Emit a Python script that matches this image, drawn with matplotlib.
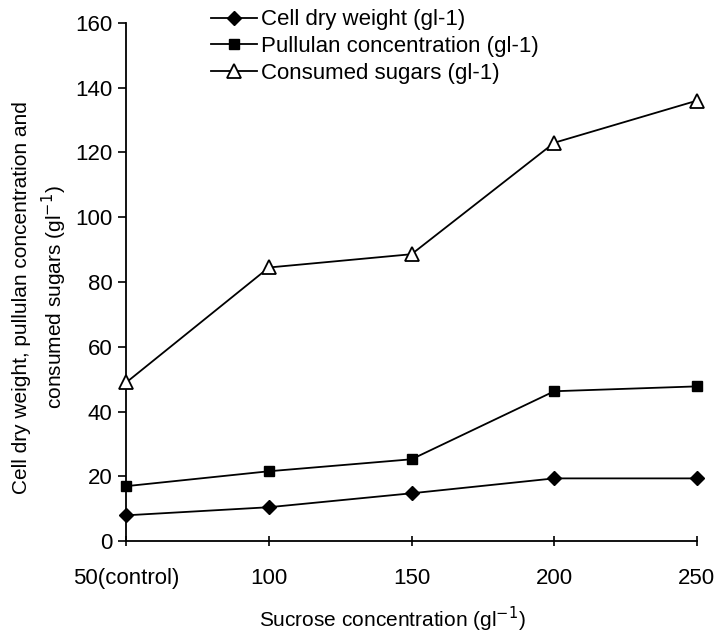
import matplotlib
matplotlib.use('Agg')
import matplotlib.pyplot as plt

plt.rcParams['font.family'] = ['Liberation Sans', 'DejaVu Sans']

categories = ['50(control)', '100', '150', '200', '250']
cell_dry_weight = [8, 10.5, 14.8, 19.4, 19.4]
pullulan = [17, 21.6, 25.3, 46.3, 47.8]
consumed_sugars = [49, 84.5, 88.6, 123, 136]
yticks = [0, 20, 40, 60, 80, 100, 120, 140, 160]

fig = plt.figure(figsize=(7.17, 6.36), dpi=100)
ax = fig.add_axes([0.176, 0.149, 0.796, 0.815])

x = range(len(categories))
ax.plot(x, cell_dry_weight, color='black', linewidth=1.3, marker='D',
        markersize=7, markerfacecolor='black', clip_on=False,
        label='Cell dry weight (gl-1)')
ax.plot(x, pullulan, color='black', linewidth=1.3, marker='s',
        markersize=7, markerfacecolor='black', clip_on=False,
        label='Pullulan concentration (gl-1)')
ax.plot(x, consumed_sugars, color='black', linewidth=1.3, marker='^',
        markersize=10, markerfacecolor='white', markeredgewidth=1.3,
        clip_on=False, label='Consumed sugars (gl-1)', zorder=5)

ax.set_xlim(0, len(categories) - 1)
ax.set_ylim(0, 160)
ax.set_xticks(list(x))
ax.set_xticklabels(categories)
ax.set_yticks(yticks)
ax.tick_params(axis='both', labelsize=16, color='black', width=1.2)
ax.tick_params(axis='y', direction='out', length=6, pad=4)
ax.tick_params(axis='x', direction='inout', length=7, pad=16)

for s in ('top', 'right'):
    ax.spines[s].set_visible(False)
for s in ('left', 'bottom'):
    ax.spines[s].set_linewidth(1.3)
    ax.spines[s].set_color('black')

ax.set_xlabel('Sucrose concentration (gl$^{-1}$)', fontsize=15)
ax.xaxis.set_label_coords(0.466, -0.122)
ax.set_ylabel('Cell dry weight, pullulan concentration and\n'
              'consumed sugars (gl$^{-1}$)', fontsize=15, linespacing=1.4)
ax.yaxis.set_label_coords(-0.10, 0.47)

ax.legend(loc='upper left', bbox_to_anchor=(0.148, 1.026), frameon=False,
          fontsize=16, handlelength=2.1, handletextpad=0.15,
          labelspacing=0.25, borderpad=0, borderaxespad=0)

fig.savefig('out.png', dpi=100)
